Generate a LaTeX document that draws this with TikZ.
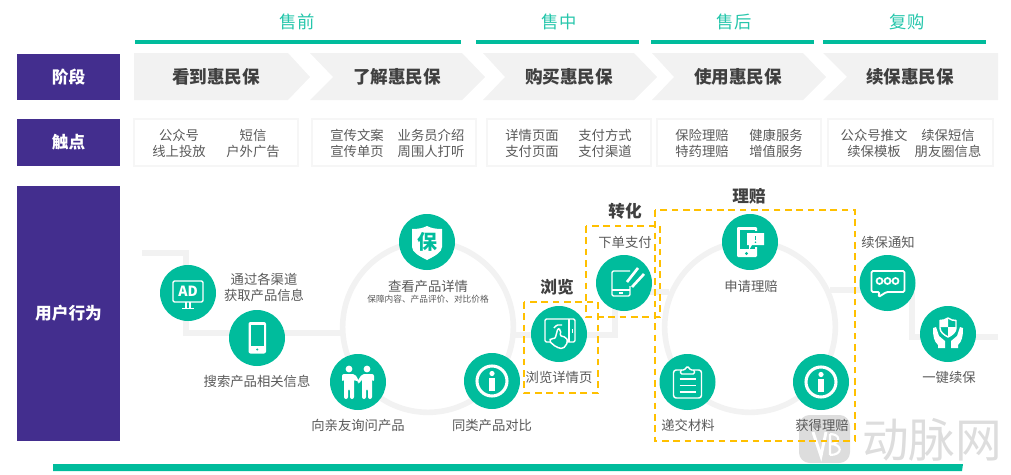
\documentclass[tikz,border=0pt]{standalone}
\usepackage{fontspec}
\setmainfont{Noto Sans CJK SC}
\usepackage{tikz}
\usetikzlibrary{positioning}
\definecolor{mint}{HTML}{00BC9C}
\definecolor{violet}{HTML}{432E8E}
\definecolor{pale}{HTML}{F2F2F2}
\definecolor{paler}{HTML}{F6F6F6}
\definecolor{amber}{HTML}{FFC000}
\definecolor{inkdark}{HTML}{404040}
\definecolor{inkgrey}{HTML}{595959}
\definecolor{markgrey}{HTML}{DDDDDD}

\begin{document}
\begin{tikzpicture}[
  x=.75pt,y=-.75pt,
  phasename/.style={text=mint!85!white,font=\fontsize{13}{15}\selectfont},
  phaseline/.style={draw=mint,line width=2.7pt},
  sidebox/.style={fill=violet,text=white,font=\bfseries\fontsize{12.5}{15}\selectfont,
    minimum width=77pt,inner sep=0pt},
  chevron/.style={fill=pale},
  stagename/.style={text=inkdark,font=\bfseries\fontsize{13.2}{15}\selectfont},
  touchbox/.style={draw=paler,line width=1pt},
  touchtext/.style={text=inkgrey,align=center,font=\fontsize{10}{11.7}\selectfont},
  track/.style={draw=pale,line width=4.2pt},
  loopring/.style={circle,draw=pale,line width=4.2pt,minimum size=128pt,inner sep=0pt},
  bubble/.style={circle,fill=mint,minimum size=42pt,inner sep=0pt},
  action/.style={text=inkgrey,align=center,font=\fontsize{10}{11.9}\selectfont},
  fineprint/.style={text=inkgrey,font=\fontsize{6.5}{8}\selectfont},
  focusname/.style={text=inkdark,font=\bfseries\fontsize{12.5}{15}\selectfont},
  focusbox/.style={draw=amber,line width=1.2pt,dash pattern=on 5pt off 3.5pt},
  line/.style={draw=white,line width=1.1pt,line join=round},
  solid/.style={fill=white,draw=none},
  gap/.style={fill=mint,draw=none}]
\useasboundingbox (0,0) rectangle (1011,475);

\node[phasename] (presale) at (297,22) {售前};
\node[phasename] (insale) at (559,22) {售中};
\node[phasename] (aftersale) at (734,22) {售后};
\node[phasename] (rebuy) at (907,22) {复购};
\draw[phaseline] (135,42) -- (461,42);
\draw[phaseline] (476,42) -- (639,42);
\draw[phaseline] (651,42) -- (814,42);
\draw[phaseline] (823,42) -- (986,42);

\node[sidebox,minimum height=35pt] (stage) at (68.5,77) {阶段};
\node[sidebox,minimum height=35pt] (touch) at (68.5,142.5) {触点};
\node[sidebox,minimum height=191pt] (behave) at (68.5,313.5) {用户行为};

% stage arrows
\fill[chevron] (134,53) -- (288,53) -- (310,77) -- (288,100) -- (134,100) -- cycle;
\fill[chevron] (310,53) -- (462,53) -- (485,77) -- (462,100) -- (310,100) -- (333,77) -- cycle;
\fill[chevron] (483,53) -- (634,53) -- (657,77) -- (634,100) -- (483,100) -- (505,77) -- cycle;
\fill[chevron] (652,53) -- (803,53) -- (826,77) -- (803,100) -- (652,100) -- (674,77) -- cycle;
\fill[chevron] (823,53) -- (998,53) -- (998,100) -- (823,100) -- (847,77) -- cycle;
\node[stagename] (see) at (216,77) {看到惠民保};
\node[stagename] (learn) at (397,77) {了解惠民保};
\node[stagename] (buy) at (569,77) {购买惠民保};
\node[stagename] (use) at (738,77) {使用惠民保};
\node[stagename] (renew) at (910,77) {续保惠民保};

% touch points
\draw[touchbox] (134,119) rectangle (298,166);
\draw[touchbox] (312,119) rectangle (476,166);
\draw[touchbox] (487,119) rectangle (651,166);
\draw[touchbox] (657,119) rectangle (821,166);
\draw[touchbox] (828,119) rectangle (993,166);
\node[touchtext] (tpa) at (179,143.5) {公众号\\线上投放};
\node[touchtext] (tpb) at (253,143.5) {短信\\户外广告};
\node[touchtext] (tpc) at (357,143.5) {宣传文案\\宣传单页};
\node[touchtext] (tpd) at (431,143.5) {业务员介绍\\周围人打听};
\node[touchtext] (tpe) at (532,143.5) {详情页面\\支付页面};
\node[touchtext] (tpf) at (605,143.5) {支付方式\\支付渠道};
\node[touchtext] (tpg) at (702,143.5) {保险理赔\\特药理赔};
\node[touchtext] (tph) at (776,143.5) {健康服务\\增值服务};
\node[touchtext] (tpi) at (874,143.5) {公众号推文\\续保模板};
\node[touchtext] (tpj) at (948,143.5) {续保短信\\朋友圈信息};

% grey track behind the icons
\coordinate (trackstart) at (142,253);
\coordinate (bendone) at (186,253);
\coordinate (bendtwo) at (186,333);
\coordinate (ringoneleft) at (341,333);
\coordinate (ringoneright) at (514,335);
\coordinate (bendthree) at (615,335);
\coordinate (bendfour) at (615,292);
\coordinate (ringtwoleft) at (669,292);
\coordinate (ringtworight) at (830,290);
\coordinate (bendfive) at (912,290);
\coordinate (bendsix) at (912,337);
\coordinate (trackend) at (998,337);
\node[loopring] (ringone) at (428,327) {};
\node[loopring] (ringtwo) at (750,327) {};
\draw[track] (trackstart) -- (bendone) -- (bendtwo) -- (ringoneleft);
\draw[track] (ringoneright) -- (bendthree) -- (bendfour) -- (ringtwoleft);
\draw[track] (ringtworight) -- (bendfive) -- (bendsix) -- (trackend);

% watermark
\fill[markgrey,rounded corners=8pt] (799,415) rectangle (850,463);
\draw[white,line width=2.2pt] (813,432) -- (821,456) -- (826,432);
\draw[white,line width=1.6pt] (830,434) -- (830,455) (830,434) .. controls (841,434) and (841,444) .. (830,444)
  (830,444) .. controls (843,444) and (843,455) .. (830,455);
\node[text=markgrey,font=\fontsize{35}{37}\selectfont,inner sep=0pt] (markname) at (932,440) {动脉网};

\node[bubble] (ad) at (188,293) {};
\node[bubble] (phone) at (257,338) {};
\node[bubble] (shield) at (427,242) {};
\node[bubble] (people) at (358,382) {};
\node[bubble] (infoone) at (492,381) {};
\node[bubble] (browse) at (559,334) {};
\node[bubble] (pay) at (624,283) {};
\node[bubble] (claim) at (750,242) {};
\node[bubble] (docs) at (687.5,382) {};
\node[bubble] (infotwo) at (821,382) {};
\node[bubble] (notice) at (887.5,283) {};
\node[bubble] (guard) at (948,334) {};

\node[action] (adtxt) at (264,287) {通过各渠道\\获取产品信息};
\node[action] (phonetxt) at (257,381) {搜索产品相关信息};
\node[action] (shieldtxt) at (428,286) {查看产品详情};
\node[fineprint] (shieldsub) at (428,299) {保障内容、产品评价、对比价格};
\node[action] (peopletxt) at (358,425) {向亲友询问产品};
\node[action] (infoonetxt) at (492,425) {同类产品对比};
\node[action] (browsetxt) at (559,377) {浏览详情页};
\node[action] (paytxt) at (625,242) {下单支付};
\node[action] (claimtxt) at (751,286) {申请理赔};
\node[action] (docstxt) at (688,425) {递交材料};
\node[action] (infotwotxt) at (822,425) {获得理赔};
\node[action] (noticetxt) at (888,242) {续保通知};
\node[action] (guardtxt) at (949,377) {一键续保};

\node[focusname] (focusa) at (557,287) {浏览};
\node[focusname] (focusb) at (625,211) {转化};
\node[focusname] (focusc) at (749,196) {理赔};
\draw[focusbox] (524,302) rectangle (598,393);
\draw[focusbox] (586,226) rectangle (660,317);
\draw[focusbox] (655,210) rectangle (855,441);

% icons
\begin{scope}[shift={(ad)}]
  \draw[line,rounded corners=1pt] (-15,-12) rectangle (15,9);
  \draw[line] (-2,9) -- (-2,15) (2,9) -- (2,15) (-6,15.5) -- (6,15.5);
  \node[text=white,font=\bfseries\fontsize{10.5}{12}\selectfont,inner sep=0pt] (adsign) at (0,-1.5) {AD};
\end{scope}
\begin{scope}[shift={(phone)}]
  \fill[solid,rounded corners=1.5pt] (-8.5,-16) rectangle (9,15.5);
  \fill[gap] (-6,-13) rectangle (6.5,8);
  \fill[gap] (.25,11.5) circle (1.2);
\end{scope}
\begin{scope}[shift={(shield)}]
  \fill[solid] (-15,-13) .. controls (-8,-13) and (-4,-14) .. (0,-16)
    .. controls (4,-14) and (8,-13) .. (15,-13)
    -- (15,5) .. controls (15,10) and (8,14) .. (0,18)
    .. controls (-8,14) and (-15,10) .. (-15,5) -- cycle;
  \node[text=mint,font=\bfseries\fontsize{15}{17}\selectfont,inner sep=0pt] (shieldsign) at (0,0) {保};
\end{scope}
\begin{scope}[shift={(people)}]
  \fill[solid] (-9,-13) circle (3.4);
  \fill[solid] (9,-13) circle (3.4);
  \fill[solid,rounded corners=1.5pt] (-16,0) -- (-16,-8) -- (-3,-8) -- (1,-1) -- (-2,0) -- (-4,-3)
    -- (-4,17) -- (-8,17) -- (-8,7) -- (-10,7) -- (-10,17) -- (-14,17) -- (-14,-3) -- cycle;
  \fill[solid,rounded corners=1.5pt] (16,0) -- (16,-8) -- (4,-8) -- (-1,0) -- (1,2) -- (4,-3)
    -- (4,17) -- (8,17) -- (8,7) -- (10,7) -- (10,17) -- (14,17) -- (14,-3) -- cycle;
\end{scope}
\begin{scope}[shift={(infoone)}]
  \draw[draw=white,line width=2.3pt] (0,0) circle (15);
  \fill[solid] (0,-7.5) circle (2.6);
  \fill[solid] (-2.6,-3) rectangle (2.6,10);
\end{scope}
\begin{scope}[shift={(browse)}]
  \draw[line,rounded corners=1pt] (-14,-15) rectangle (16,8);
  \draw[line] (10,-15) -- (10,8);
  \fill[solid] (13,-5) rectangle (13.8,-1);
  \draw[line,fill=mint,rounded corners=1.5pt] (-1,-6) -- (2,-4) -- (1,2) -- (7,3) -- (9,8) -- (4,15)
    -- (-3,13) -- (-10,7) -- (-8,4) -- (-4,5) -- cycle;
  \draw[line] (-5,-6) .. controls (-3,-9) and (0,-10) .. (3,-9);
\end{scope}
\begin{scope}[shift={(pay)}]
  \draw[line,rounded corners=1pt] (6,-12) -- (-12,-12) -- (-12,13) -- (6,13) -- (6,3);
  \draw[line] (-12,7) -- (6,7) (-5,10) -- (-1,10);
  \draw[draw=white,line width=2pt] (3,-1) -- (14,-15) (8,4) -- (20,-9);
\end{scope}
\begin{scope}[shift={(claim)}]
  \fill[solid,rounded corners=.8pt] (-13,-15) rectangle (7,15);
  \fill[gap] (-10.5,-12) rectangle (5,7);
  \fill[gap] (-3.5,11.5) circle (1.6);
  \fill[gap] (-5,-11) rectangle (16,5);
  \fill[solid] (-3,-9) -- (14,-9) -- (14,3) -- (2,3) -- (-1,8) -- (-1,3) -- (-3,3) -- cycle;
  \fill[gap] (4.8,-6.5) rectangle (6.2,-2);
  \fill[gap] (5.5,.3) circle (.9);
\end{scope}
\begin{scope}[shift={(docs)}]
  \draw[line,rounded corners=2pt] (-6,-12) -- (-14,-12) -- (-14,16) -- (14,16) -- (14,-12) -- (6,-12);
  \draw[line,rounded corners=1pt] (-7,-8) -- (-7,-12) -- (-3,-12) -- (0,-16) -- (3,-12) -- (7,-12) -- (7,-8) -- cycle;
  \draw[line] (-8,-3) -- (8,-3) (-8,3.5) -- (8,3.5) (-8,10) -- (8,10);
\end{scope}
\begin{scope}[shift={(infotwo)}]
  \draw[draw=white,line width=2.3pt] (0,0) circle (15);
  \fill[solid] (0,-7.5) circle (2.6);
  \fill[solid] (-2.6,-3) rectangle (2.6,10);
\end{scope}
\begin{scope}[shift={(notice)}]
  \draw[line,line width=1.4pt,rounded corners=1pt] (-16,-12) -- (17,-12) -- (17,9) -- (-1,9) -- (-9,14) -- (-8,9) -- (-16,9) -- cycle;
  \draw[draw=white,line width=1.3pt] (-8,-2) circle (3) (0,-2) circle (3) (8,-2) circle (3);
\end{scope}
\begin{scope}[shift={(guard)}]
  \draw[line] (0,-16) .. controls (3,-14) and (5,-13.5) .. (8,-13.5) -- (8,-6)
    .. controls (8,-2) and (4,1) .. (0,3) .. controls (-4,1) and (-8,-2) .. (-8,-6) -- (-8,-13.5)
    .. controls (-5,-13.5) and (-3,-14) .. (0,-16) -- cycle;
  \fill[solid] (0,-16) .. controls (-3,-14) and (-5,-13.5) .. (-8,-13.5) -- (-8,-7) -- (0,-7) -- cycle;
  \fill[solid] (0,-7) -- (8,-7) -- (8,-6) .. controls (8,-2) and (4,1) .. (0,3) -- cycle;
  \fill[solid] (-15,-6) -- (-12,-7) -- (-9,2) -- (-3,7) -- (-3,14) -- (-10,14) -- (-10,11)
    .. controls (-14,7) and (-15,3) .. (-15,-6) -- cycle;
  \fill[solid] (15,-6) -- (12,-7) -- (9,2) -- (3,7) -- (3,14) -- (10,14) -- (10,11)
    .. controls (14,7) and (15,3) .. (15,-6) -- cycle;
\end{scope}

\fill[mint] (53,464) -- (963,464) -- (962,471) -- (53,471) -- cycle;
\end{tikzpicture}
\end{document}
